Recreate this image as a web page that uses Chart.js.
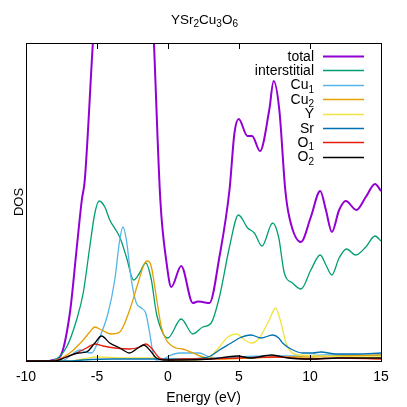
<!DOCTYPE html>
<html>
<head>
<meta charset="utf-8">
<script src="https://cdn.jsdelivr.net/npm/chart.js@4/dist/chart.umd.min.js"></script>
<style>
html,body{margin:0;padding:0;background:#fff;}
canvas{display:block;}
</style>
</head>
<body>
<canvas id="c" width="407" height="407"></canvas>
<script>
// ---- data ----
const chartTitle = 'YSr₂Cu₃O₆';
const xAxisLabel = 'Energy (eV)';
const yAxisLabel = 'DOS';
const xTicks = [-10, -5, 0, 5, 10, 15];
const seriesLabels = ['total', 'interstitial', 'Cu₁', 'Cu₂', 'Y', 'Sr', 'O₁', 'O₂'];

const eTotal = [-10,-8.46,-8.1,-7.61,-6.91,-6.42,-6.07,-5.86,-5.29,-4.8,-3.5,-2.0,-1.3,-0.99,-0.54,-0.10,0.23,0.93,1.75,2.1,2.43,2.92,3.62,4.33,4.68,4.98,5.59,5.92,6.48,7.13,7.44,7.84,8.26,8.54,9.36,10.06,10.72,11.12,11.54,12.05,12.52,13.27,13.93,14.58,15.0];
const dosTotal = [0,0,0.1,0.4,4.8,11.4,16.1,18.1,31.8,42,55,50,42,31.8,16.1,9.8,7.4,9.5,5.8,5.95,5.9,5.8,10.4,17.1,22.8,24.2,22.5,22.5,21.0,25.1,28.0,25.1,17.1,14.4,11.9,14.4,17.0,15.1,12.9,15.1,16.0,15.1,16.4,17.7,17.0];

const eInter = [-10,-8.5,-8.1,-7.14,-6.44,-5.97,-5.51,-5.15,-4.85,-4.45,-4.1,-3.4,-2.93,-2.42,-2.0,-1.57,-1.17,-0.82,-0.36,-0.01,0.93,1.75,2.45,3.04,3.62,4.33,4.96,5.61,6.08,6.62,7.37,7.79,8.19,8.77,9.36,10.06,10.72,11.12,11.54,12.05,12.57,13.22,13.93,14.58,15.0];
const dosInter = [0,0,0.05,1.4,4.1,6.8,11.4,14.8,16.0,15.4,14.1,12.4,10.4,8.1,8.8,9.8,8.1,4.8,2.8,2.3,4.2,2.7,3.4,3.8,6.4,11.4,14.6,13.3,12.8,11.5,13.8,12.4,8.8,7.8,7.2,9.1,10.6,9.6,8.6,10.3,11.2,10.6,11.4,12.5,12.0];

const eCu1 = [-10,-7.5,-6.9,-6.2,-5.8,-5.39,-4.8,-4.22,-3.75,-3.4,-3.17,-2.93,-2.58,-2.23,-1.88,-1.57,-1.29,-1.06,-0.82,-0.3,0.0,0.81,1.5,2.22,2.92,4.0,5.0,7.0,9.0,11.0,13.0,15.0];
const dosCu1 = [0,0,0.5,1.1,0.9,0.8,2.4,4.8,8.1,12.1,13.4,12.1,8.1,5.8,5.3,4.8,2.8,0.8,0.1,0.2,0.45,0.8,0.8,0.8,0.4,0.3,0.4,0.5,0.5,0.6,0.6,0.6];

const eCu2 = [-10,-8.5,-7.85,-6.91,-5.97,-5.51,-5.15,-4.68,-3.98,-3.4,-2.7,-2.11,-1.64,-1.41,-1.17,-0.82,-0.47,-0.12,0.58,1.05,1.75,2.45,2.92,4.0,6.0,8.0,10.0,12.0,15.0];
const dosCu2 = [0,0,0.1,0.8,2.1,2.9,3.4,3.1,2.7,2.9,5.1,7.8,9.8,10.0,9.4,6.4,3.4,2.1,1.3,1.2,0.8,0.4,0.3,0.2,0.3,0.4,0.4,0.5,0.6];

const eY = [-10,-7,-6,-5,-3,-1,0,2,2.92,3.62,4.21,4.84,5.38,5.92,6.43,7.13,7.58,7.96,8.31,8.66,9.24,11,13,15];
const dosY = [0,0,0.2,0.4,0.3,0.3,0.1,0.1,0.4,1.4,2.4,2.7,2.1,1.8,2.3,4.1,5.3,3.8,1.8,0.9,0.6,0.5,0.4,0.4];

const eSr = [-10,-7,-6,-4,-1,1,2.5,3.0,3.62,4.45,5.03,5.85,6.55,7.37,7.8,8.07,8.66,9.47,10.2,10.76,11.82,13.3,15];
const dosSr = [0,0,0.1,0.2,0.2,0.2,0.3,0.5,1.1,1.8,2.3,2.6,2.3,2.6,2.3,1.8,1.2,0.8,0.8,0.9,0.7,0.7,0.8];

const eO1 = [-10,-8,-7.38,-6.44,-5.74,-5.15,-4.57,-3.75,-2.7,-2.0,-1.57,-1.17,-0.59,0.11,1,3,5,7.5,10,12,15];
const dosO1 = [0,0,0.3,0.8,1.3,1.7,1.5,1.3,1.2,1.4,1.7,1.3,0.3,0.1,0.2,0.2,0.3,0.4,0.2,0.3,0.2];

const eO2 = [-10,-8,-7.14,-6.33,-5.74,-5.15,-4.68,-4.1,-3.4,-2.7,-2.11,-1.71,-1.29,-0.82,-0.36,1,3,4.9,5.8,7.3,8.5,10,12,15];
const dosO2 = [0,0,0.4,0.8,0.9,1.8,2.5,1.8,1.3,0.8,1.3,1.6,1.1,0.3,0.1,0.1,0.2,0.5,0.3,0.6,0.3,0.2,0.3,0.3];

// ---- styles ----
const FONT = '"Liberation Sans", Arial, sans-serif';
const colors = ['#9400d3', '#009e73', '#56b4e9', '#e69f00', '#f0e442', '#0072b2', '#e51e10', '#000000'];
const widths = [2, 1.3, 1.3, 1.3, 1.3, 1.3, 1.3, 1.3];
const xs = [eTotal, eInter, eCu1, eCu2, eY, eSr, eO1, eO2];
const ys = [dosTotal, dosInter, dosCu1, dosCu2, dosY, dosSr, dosO1, dosO2];

const datasets = seriesLabels.map((lab, i) => ({
  label: lab,
  data: xs[i].map((e, k) => ({x: e, y: ys[i][k]})),
  borderColor: colors[i],
  backgroundColor: colors[i],
  borderWidth: widths[i],
  pointRadius: 0,
  fill: false,
  cubicInterpolationMode: 'monotone',
  order: seriesLabels.length - i
}));

// draw text with Unicode subscript digits rendered as smaller, lowered digits
const SUBS = '₀₁₂₃₄₅₆₇₈₉';
function richSegments(str) {
  const segs = [];
  for (const ch of str) {
    const k = SUBS.indexOf(ch);
    const sub = k >= 0;
    const c = sub ? String(k) : ch;
    if (segs.length && segs[segs.length - 1].sub === sub) segs[segs.length - 1].t += c;
    else segs.push({t: c, sub});
  }
  return segs;
}
function drawRich(ctx, str, x, y, size, subSize, subDrop, align) {
  const segs = richSegments(str);
  let w = 0;
  segs.forEach(s => {
    ctx.font = (s.sub ? subSize : size) + 'px ' + FONT;
    s.w = ctx.measureText(s.t).width;
    w += s.w;
  });
  let cx = align === 'right' ? x - w : align === 'center' ? x - w / 2 : x;
  ctx.textAlign = 'left';
  ctx.textBaseline = 'alphabetic';
  segs.forEach(s => {
    ctx.font = (s.sub ? subSize : size) + 'px ' + FONT;
    ctx.fillText(s.t, cx, s.sub ? y + subDrop : y);
    cx += s.w;
  });
}

const framePlugin = {
  id: 'frame',
  afterDatasetsDraw(chart) {
    const {ctx, chartArea: a, scales} = chart;
    ctx.save();
    ctx.strokeStyle = '#000';
    ctx.lineWidth = 1;
    ctx.strokeRect(Math.round(a.left) + 0.5, Math.round(a.top) + 0.5, Math.round(a.right - a.left), Math.round(a.bottom - a.top));
    // inward tick marks, bottom and mirrored on top
    xTicks.forEach(t => {
      const px = Math.round(scales.x.getPixelForValue(t)) + 0.5;
      ctx.beginPath();
      ctx.moveTo(px, a.bottom); ctx.lineTo(px, a.bottom - 6);
      ctx.moveTo(px, a.top); ctx.lineTo(px, a.top + 6);
      ctx.stroke();
    });
    // title
    ctx.fillStyle = '#000';
    drawRich(ctx, chartTitle, (a.left + a.right) / 2 + 1, 24, 13.5, 10, 3, 'center');
    // key: labels right-aligned, sample line on the right
    seriesLabels.forEach((lab, i) => {
      const y = 56 + i * 14.4;
      ctx.fillStyle = '#000';
      drawRich(ctx, lab, 314, y + 4.5, 14, 10, 3.5, 'right');
      ctx.beginPath();
      ctx.strokeStyle = colors[i];
      ctx.lineWidth = widths[i];
      ctx.moveTo(323, Math.round(y) + 0.5);
      ctx.lineTo(364, Math.round(y) + 0.5);
      ctx.stroke();
    });
    ctx.restore();
  }
};

new Chart(document.getElementById('c'), {
  type: 'line',
  data: {datasets},
  options: {
    responsive: false,
    animation: false,
    devicePixelRatio: 1,
    layout: {padding: {left: 0, right: 26, top: 43, bottom: 0}},
    plugins: {
      legend: {display: false},
      tooltip: {enabled: false},
      title: {display: false}
    },
    scales: {
      x: {
        type: 'linear',
        min: -10, max: 15,
        afterBuildTicks(scale) { scale.ticks = xTicks.map(v => ({value: v})); },
        afterFit(scale) { scale.height = 46; },
        grid: {display: false},
        border: {display: false},
        ticks: {color: '#000', font: {family: FONT, size: 14}, padding: 0, maxRotation: 0},
        title: {display: true, text: xAxisLabel, color: '#000', font: {family: FONT, size: 14}, padding: {top: 2, bottom: 0}}
      },
      y: {
        min: 0, max: 31.8,
        afterFit(scale) { scale.width = 26; },
        grid: {display: false},
        border: {display: false},
        ticks: {display: false},
        title: {display: true, text: yAxisLabel, color: '#000', font: {family: FONT, size: 13}, padding: {top: 12, bottom: 0}}
      }
    }
  },
  plugins: [framePlugin]
});
</script>
</body>
</html>
